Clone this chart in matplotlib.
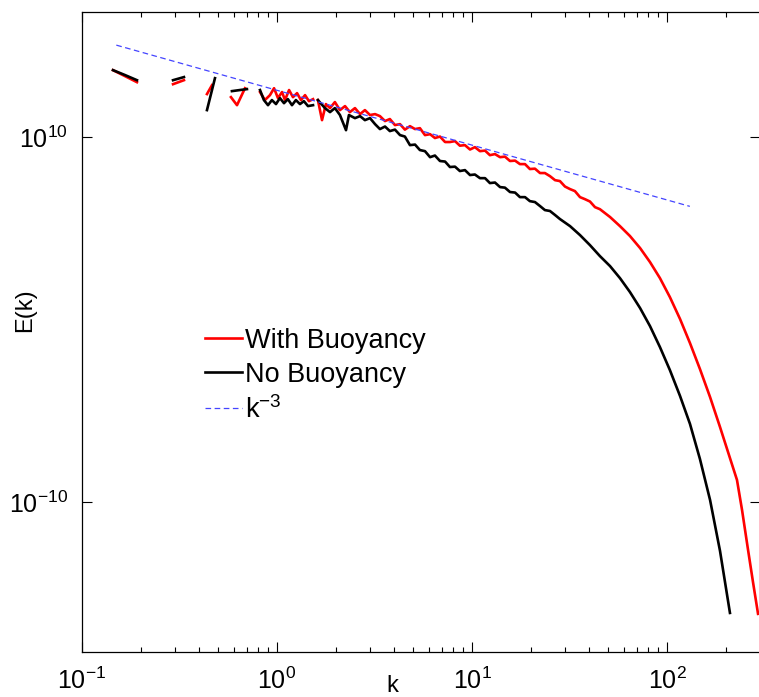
import numpy as np
import matplotlib
matplotlib.use("Agg")
import matplotlib.pyplot as plt
from matplotlib.ticker import NullLocator, LogFormatterSciNotation

plt.rcParams['font.family'] = ['Liberation Sans', 'DejaVu Sans']
plt.rcParams['mathtext.fontset'] = 'custom'
plt.rcParams['mathtext.rm'] = 'Liberation Sans'
plt.rcParams['mathtext.it'] = 'Liberation Sans:italic'
plt.rcParams['mathtext.bf'] = 'Liberation Sans:bold'

nan = np.nan

# spectra stored as log10(k), log10(E); nan marks the gaps where E(k) <= 0
log_k_with = [
    -0.841, -0.779, -0.718, nan,
    -0.533, -0.477, nan,
    -0.359, -0.333, nan,
    -0.236, -0.205, -0.164, nan,
    -0.087, -0.062, -0.036, -0.015, 0.005, 0.026, 0.041, 0.062, 0.082, 0.103,
    0.123, 0.144, 0.164, 0.185, nan,
    0.210, 0.231, 0.251, 0.272, 0.297, 0.323, 0.349, 0.374, 0.400, 0.426,
    0.451, 0.477, 0.503,
    0.528, 0.554, 0.579, 0.605, 0.631, 0.656, 0.682, 0.708, 0.733, 0.759,
    0.785, 0.810, 0.836, 0.862, 0.887, 0.913, 0.938, 0.964, 0.990, 1.015,
    1.041, 1.067, 1.092, 1.118, 1.144, 1.169, 1.195, 1.221, 1.246, 1.272,
    1.297, 1.323, 1.349, 1.374, 1.400, 1.426, 1.451, 1.477, 1.503, 1.528,
    1.554, 1.579, 1.605, 1.631, 1.656,
    1.708, 1.759, 1.810, 1.862, 1.913, 1.964, 2.015, 2.067, 2.118, 2.169,
    2.221, 2.272, 2.323, 2.359, 2.385, 2.415, 2.441, 2.467,
]
log_E_with = [
    13.67, 13.34, 13.01, nan,
    12.90, 13.12, nan,
    12.36, 12.85, nan,
    12.19, 11.75, 12.68, nan,
    12.47, 12.03, 12.30, 12.68, 12.14, 12.47, 12.03, 12.58, 12.19, 12.41,
    12.03, 12.30, 11.97, 12.08, nan,
    12.03, 10.93, 11.81, 11.59, 11.92, 11.48, 11.70, 11.37, 11.59, 11.26,
    11.48, 11.21, 11.26,
    11.15, 10.88, 10.99, 10.66, 10.71, 10.41, 10.60, 10.44, 10.49, 10.11,
    10.16, 9.95, 10.03, 9.73, 9.73, 9.78, 9.53, 9.56, 9.32, 9.45,
    9.23, 9.26, 9.01, 9.07, 8.90, 8.93, 8.69, 8.71, 8.52, 8.52,
    8.25, 8.27, 8.03, 8.03, 7.86, 7.64, 7.59, 7.29, 7.15, 7.04,
    6.71, 6.60, 6.47, 6.16, 6.05,
    5.62, 5.12, 4.58, 3.92, 3.15, 2.27, 1.23, 0.03, -1.29, -2.71,
    -4.25, -5.89, -7.59, -8.79, -10.44, -12.57, -14.38, -16.13,
]

log_k_without = [
    -0.841, -0.779, -0.718, nan,
    -0.533, -0.477, nan,
    -0.359, -0.318, nan,
    -0.231, -0.190, -0.154, nan,
    -0.087, -0.067, -0.046, -0.026, -0.005, 0.015, 0.036, 0.056, 0.077, 0.097,
    0.118, 0.138, 0.159, 0.185, nan,
    0.210, 0.246, 0.272, 0.297, 0.323, 0.354, 0.369, 0.400, 0.426, 0.451,
    0.477, 0.503,
    0.528, 0.554, 0.579, 0.605, 0.631, 0.656, 0.682, 0.708, 0.733, 0.759,
    0.785, 0.810, 0.836, 0.862, 0.887, 0.913, 0.938, 0.964, 0.990, 1.015,
    1.041, 1.067, 1.092, 1.118, 1.144, 1.169, 1.195, 1.221, 1.246, 1.272,
    1.297, 1.323, 1.349, 1.374, 1.400, 1.426, 1.451,
    1.503, 1.554, 1.605, 1.656, 1.708, 1.759, 1.810, 1.862, 1.913, 1.964,
    2.015, 2.067, 2.118, 2.169, 2.221, 2.272, 2.323,
]
log_E_without = [
    13.67, 13.40, 13.12, nan,
    13.12, 13.29, nan,
    11.48, 13.23, nan,
    12.52, 12.58, 12.63, nan,
    12.58, 12.03, 11.75, 12.03, 11.81, 12.14, 11.86, 12.08, 11.75, 12.03,
    11.81, 11.97, 11.70, 11.75, nan,
    12.03, 11.59, 11.37, 11.59, 11.21, 10.38, 11.21, 11.04, 11.15, 10.93,
    11.04, 10.71,
    10.44, 10.58, 10.33, 10.41, 10.11, 10.03, 9.56, 9.59, 9.29, 9.23,
    8.90, 8.99, 8.69, 8.66, 8.36, 8.38, 8.14, 8.19, 7.92, 7.95,
    7.75, 7.75, 7.48, 7.51, 7.26, 7.23, 6.99, 6.96, 6.71, 6.71,
    6.49, 6.44, 6.22, 6.00, 5.95, 5.73, 5.51,
    5.12, 4.63, 4.08, 3.48, 2.93, 2.27, 1.51, 0.63, -0.36, -1.51,
    -2.77, -4.19, -5.72, -7.64, -9.89, -12.68, -16.08,
]

# k^-3 reference line end points
ref_k = [0.15, 131.0]
ref_E = [1.1e15, 1.6e6]

k_with = 10.0 ** np.array(log_k_with)
E_with = 10.0 ** np.array(log_E_with)
k_without = 10.0 ** np.array(log_k_without)
E_without = 10.0 ** np.array(log_E_without)

fig = plt.figure(figsize=(7.59, 6.97), dpi=100)
ax = fig.add_axes([0.108, 0.0646, 0.8933, 0.918])

ax.loglog(k_with, E_with, color='red', lw=1.9, label='With Buoyancy')
ax.loglog(k_without, E_without, color='black', lw=1.9, label='No Buoyancy')
ax.loglog(ref_k, ref_E, color='#4444ff', lw=0.9, dashes=(4.5, 2.8),
          label=r'k$^{-3}$')

ax.set_xlim(0.1, 10 ** 2.477)
ax.set_ylim(10 ** -18.22, 10 ** 16.85)
ax.set_xticks([1e-1, 1e0, 1e1, 1e2])
ax.set_yticks([1e-10, 1e10])
ax.yaxis.set_minor_locator(NullLocator())
ax.xaxis.set_major_formatter(LogFormatterSciNotation())
ax.yaxis.set_major_formatter(LogFormatterSciNotation())

ax.tick_params(which='both', direction='in', top=True, right=True,
               labelsize=18, width=0.8)
ax.tick_params(which='major', length=7)
ax.tick_params(which='minor', length=3.5)
ax.tick_params(axis='x', pad=11)
ax.tick_params(axis='y', pad=10)
for sp in ax.spines.values():
    sp.set_linewidth(0.9)

ax.set_xlabel('k', fontsize=17)
ax.set_ylabel('E(k)', fontsize=17)
ax.xaxis.set_label_coords(0.458, -0.036)
ax.yaxis.set_label_coords(-0.067, 0.534)

ax.legend(loc='upper left', bbox_to_anchor=(0.182, 0.507), frameon=False,
          fontsize=19.5, handlelength=1.35, handletextpad=0.1,
          labelspacing=0.3, borderpad=0, borderaxespad=0)

fig.savefig('out.png', dpi=100)
